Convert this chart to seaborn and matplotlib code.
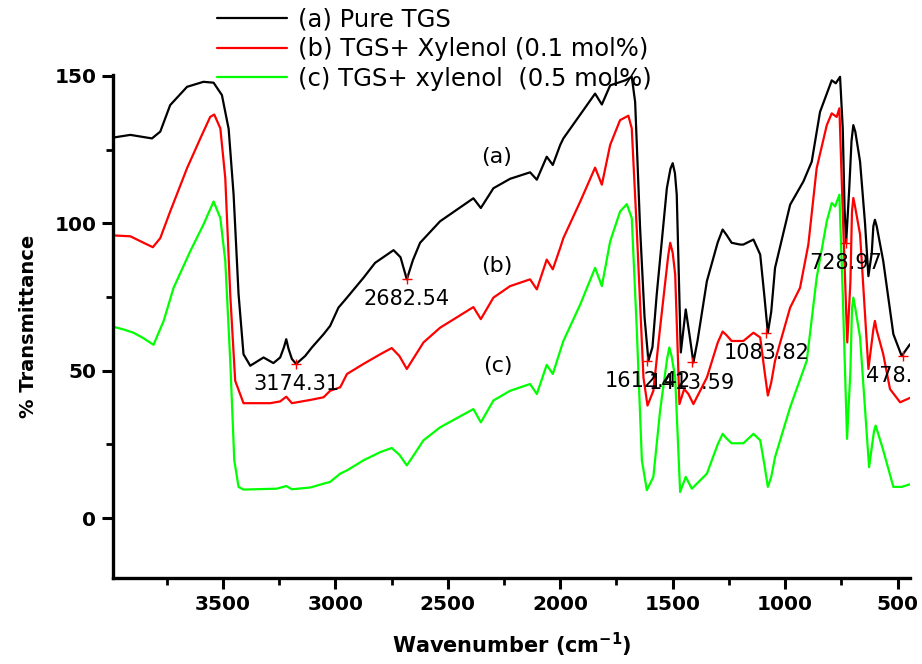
import matplotlib
matplotlib.use('Agg')
import matplotlib.pyplot as plt
import numpy as np
import pandas as pd
import seaborn as sns
from matplotlib.ticker import MultipleLocator

sns.set_theme(style='ticks')
plt.rcParams['font.family'] = ['DejaVu Sans']
plt.rcParams['mathtext.fontset'] = 'dejavusans'
for k in ['text.color', 'axes.labelcolor', 'xtick.color', 'ytick.color', 'axes.edgecolor']:
    plt.rcParams[k] = 'black'

# ---------------- data ----------------
wn_a = [3986, 3911, 3815, 3778, 3734, 3659, 3586, 3541, 3504, 3474, 3452, 3430, 3408, 3378,
        3319, 3275, 3245, 3228, 3218, 3208, 3193, 3174, 3134, 3104, 3052, 3023, 2986, 2948, 2875, 2823,
        2741, 2710, 2682, 2655, 2623, 2534, 2386, 2353, 2297, 2223, 2134, 2104, 2060, 2033,
        2000, 1986, 1845, 1815, 1778, 1711, 1682, 1667, 1645, 1625, 1608, 1590, 1571, 1526,
        1510, 1500, 1490, 1482, 1464, 1442, 1425, 1408, 1390, 1348, 1300, 1278, 1260, 1238, 1200, 1186, 1141, 1111,
        1092, 1077, 1062, 1045, 978, 919, 882, 845, 793, 775, 756, 744, 736, 729, 715, 705, 697, 688, 667,
        645, 630, 615, 608, 601, 593, 564, 519, 482, 445]
val_a = [129.1, 130.0, 128.8, 131.1, 140.1, 146.3, 148.0, 147.7, 143.5, 132.0, 109.7, 76.0, 55.6, 51.7,
         54.5, 52.6, 54.5, 58.0, 60.7, 57.5, 54.0, 52.3, 55.0, 57.9, 62.4, 65.2, 71.4, 74.8, 81.5, 86.6,
         90.9, 88.5, 81.0, 87.5, 93.4, 100.7, 108.5, 105.2, 111.9, 115.1, 117.3, 114.8, 122.6, 119.8,
         126.6, 128.8, 144.0, 140.3, 146.8, 148.5, 149.7, 141.2, 98.4, 68.0, 53.4, 58.0, 75.9, 111.9,
         118.5, 120.4, 117.0, 109.7, 56.2, 70.8, 62.0, 52.8, 60.0, 80.4, 93.5, 97.9, 96.0, 93.4, 92.8, 92.8, 94.5, 89.4,
         75.0, 62.9, 70.0, 84.9, 106.3, 114.2, 120.9, 137.8, 148.5, 147.5, 149.7, 132.2, 105.0, 93.4, 112.0, 128.0, 133.3, 131.0, 120.9,
         100.0, 82.1, 90.0, 99.0, 101.2, 99.0, 87.2, 62.4, 55.0, 59.0]

wn_b = [3986, 3911, 3852, 3811, 3778, 3734, 3659, 3600, 3556, 3538, 3511, 3489, 3467, 3445,
        3408, 3289, 3245, 3218, 3193, 3111, 3052, 3023, 2978, 2948, 2875, 2800, 2749, 2715,
        2682, 2650, 2608, 2534, 2386, 2353, 2297, 2223, 2134, 2104, 2060, 2033, 2000, 1986,
        1911, 1845, 1815, 1778, 1734, 1697, 1682, 1660, 1630, 1612, 1586, 1556, 1520, 1511, 1500, 1489,
        1470, 1449, 1430, 1408, 1348, 1300, 1278, 1260, 1238, 1186, 1141, 1111, 1092, 1077, 1062, 1045,
        978, 934, 897, 860, 815, 793, 771, 759, 744, 724, 710, 703, 697, 690, 667, 630, 608, 601, 594, 564, 534,
        489, 445]
val_b = [95.9, 95.6, 93.4, 91.9, 95.0, 104.0, 118.7, 128.8, 136.1, 136.9, 132.2, 115.3, 75.9, 46.6,
         39.0, 39.0, 39.6, 41.2, 39.0, 40.1, 41.0, 43.2, 44.4, 48.9, 52.3, 55.6, 57.7, 55.0,
         50.6, 54.5, 59.6, 64.6, 71.6, 67.5, 74.8, 78.7, 81.0, 77.6, 87.7, 84.4, 91.7, 95.0,
         107.4, 118.9, 113.1, 126.6, 135.0, 136.5, 132.2, 98.4, 47.7, 38.2, 43.2, 64.6, 89.0, 93.4, 90.0, 82.7,
         38.7, 43.8, 42.1, 38.7, 47.7, 59.5, 63.3, 62.0, 60.1, 60.1, 62.9, 61.3, 50.0, 41.6, 46.0, 53.4,
         71.4, 78.1, 92.8, 118.7, 133.3, 137.3, 136.1, 139.0, 104.0, 59.6, 80.0, 104.0, 108.6, 106.0, 96.2, 50.6, 64.0, 66.9, 64.0, 55.6, 43.8,
         39.3, 40.8]

wn_c = [3986, 3941, 3897, 3852, 3808, 3763, 3719, 3645, 3586, 3541, 3511, 3489, 3467, 3449,
        3430, 3408, 3260, 3218, 3193, 3111, 3052, 3023, 2978, 2948, 2875, 2800, 2749, 2715,
        2682, 2650, 2608, 2534, 2386, 2353, 2297, 2223, 2134, 2104, 2060, 2033, 2000, 1986,
        1911, 1845, 1815, 1778, 1734, 1704, 1682, 1660, 1637, 1615, 1586, 1556, 1525, 1515, 1505, 1489,
        1467, 1442, 1415, 1348, 1300, 1278, 1260, 1238, 1186, 1141, 1111, 1092, 1077, 1062, 1045, 978,
        904, 860, 815, 793, 778, 759, 744, 725, 710, 703, 697, 690, 667, 627, 605, 598, 590, 564, 519, 482, 445]
val_c = [64.9, 64.0, 62.9, 61.0, 58.8, 66.9, 78.1, 90.5, 99.6, 107.4, 101.8, 87.2, 53.4, 19.6,
         10.6, 9.7, 10.0, 10.9, 9.8, 10.4, 11.7, 12.3, 15.1, 16.2, 19.6, 22.4, 23.8, 21.5,
         17.9, 21.5, 26.4, 30.8, 37.0, 32.5, 39.9, 43.2, 45.5, 42.1, 52.0, 48.9, 56.8, 60.1,
         72.5, 84.9, 78.7, 93.9, 104.0, 106.5, 101.8, 64.6, 19.6, 9.5, 14.0, 36.5, 54.0, 57.9, 55.0, 47.7,
         8.9, 14.0, 10.0, 15.1, 25.0, 28.6, 27.0, 25.4, 25.4, 28.6, 26.4, 18.0, 10.6, 14.0, 20.7, 37.6,
         53.4, 81.5, 100.7, 106.9, 105.7, 109.7, 75.9, 26.9, 50.0, 71.0, 74.8, 72.0, 61.3, 17.3, 29.5, 31.4, 29.5, 23.0, 10.6, 10.6, 11.5]

labels = ['(a) Pure TGS', '(b) TGS+ Xylenol (0.1 mol%)', '(c) TGS+ xylenol  (0.5 mol%)']
colors = ['#000000', '#ff0000', '#00ff00']

peak_wn = [3174.31, 2682.54, 1612.42, 1413.59, 1083.82, 728.97, 478.15]
peak_val = [52.3, 81.0, 53.4, 52.8, 62.9, 93.4, 55.0]

curve_tags = ['(a)', '(b)', '(c)']
tag_wn = [2285, 2280, 2275]
tag_val = [122.6, 85.5, 51.7]

# ---------------- figure ----------------
fig = plt.figure(figsize=(9.22, 6.64), dpi=100)
ax = fig.add_axes([0.1226, 0.1295, 0.8644, 0.7575])

df = pd.concat([
    pd.DataFrame({'wn': wn_a, 'T': val_a, 'series': labels[0]}),
    pd.DataFrame({'wn': wn_b, 'T': val_b, 'series': labels[1]}),
    pd.DataFrame({'wn': wn_c, 'T': val_c, 'series': labels[2]}),
])
sns.lineplot(data=df, x='wn', y='T', hue='series', hue_order=labels,
             palette=dict(zip(labels, colors)), estimator=None, sort=True,
             linewidth=1.6, ax=ax)

ax.set_xlim(3988, 445)
ax.set_ylim(-20.3, 150.3)

ax.xaxis.set_major_locator(MultipleLocator(500))
ax.xaxis.set_minor_locator(MultipleLocator(250))
ax.yaxis.set_major_locator(MultipleLocator(50))
ax.yaxis.set_minor_locator(MultipleLocator(25))

sns.despine(ax=ax)
for s in ['left', 'bottom']:
    ax.spines[s].set_linewidth(2.4)
    ax.spines[s].set_color('black')

ax.tick_params(which='major', length=8, width=2.2, color='black', labelcolor='black', labelsize=14.5, pad=4)
ax.tick_params(which='minor', length=5, width=2.0, color='black')
for lab in ax.get_xticklabels() + ax.get_yticklabels():
    lab.set_fontweight('bold')

ax.set_xlabel('Wavenumber (cm$^{\\mathregular{-1}}$)', fontsize=15, fontweight='bold', labelpad=12, color='black')
ax.set_ylabel('% Transmittance', fontsize=14, fontweight='bold', labelpad=12, color='black')

# peak markers and labels
ax.scatter(peak_wn, peak_val, marker='+', color='red', s=60, linewidths=1.0, zorder=5, clip_on=False)
for w, v in zip(peak_wn, peak_val):
    ax.text(w, v - 6.8, f'{w:.2f}', ha='center', va='center', fontsize=15, color='black', clip_on=True)

for t, w, v in zip(curve_tags, tag_wn, tag_val):
    ax.text(w, v, t, ha='center', va='center', fontsize=16, color='black')

h, l = ax.get_legend_handles_labels()
leg = ax.legend(h, l, loc='upper left', bbox_to_anchor=(0.235, 0.988), bbox_transform=fig.transFigure,
                frameon=False, fontsize=17.5, handlelength=2.9, handletextpad=0.45, labelspacing=0.22,
                borderpad=0, borderaxespad=0)
for t in leg.get_texts():
    t.set_color('black')

fig.savefig('out.png', dpi=100)
